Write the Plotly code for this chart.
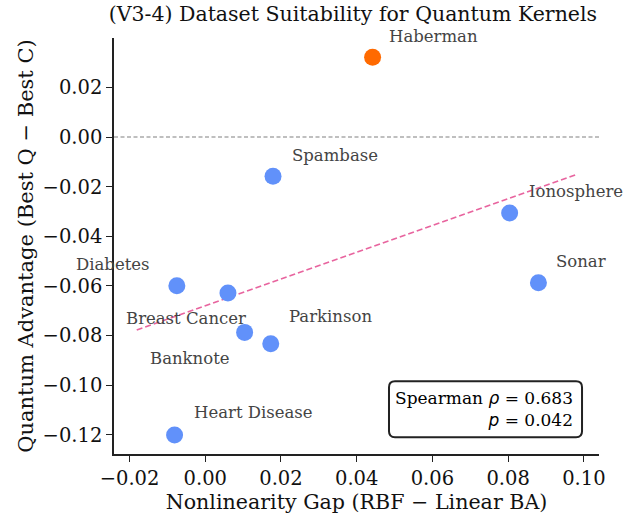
import numpy as np
import plotly.graph_objects as go

datasets = ["Haberman", "Spambase", "Ionosphere", "Sonar", "Diabetes",
            "Breast Cancer", "Banknote", "Parkinson", "Heart Disease"]
nonlin_gap = [0.0442, 0.0179, 0.0804, 0.0880, -0.0075, 0.0060, 0.0104, 0.0173, -0.0081]
q_advantage = [0.0321, -0.0158, -0.0306, -0.0587, -0.0599, -0.0628, -0.0787, -0.0833, -0.1200]
x_ticks = [-0.02, 0.00, 0.02, 0.04, 0.06, 0.08, 0.10]
y_ticks = [-0.12, -0.10, -0.08, -0.06, -0.04, -0.02, 0.00, 0.02]
spearman_rho = 0.683
spearman_p = 0.042

# label placement (pixel offsets from point, anchor)
label_pos = {
    "Haberman": (14, 21, "left"),
    "Spambase": (17, 21, "left"),
    "Ionosphere": (17, 21, "left"),
    "Sonar": (16, 21, "left"),
    "Diabetes": (-25, 21, "right"),
    "Breast Cancer": (20, -26, "right"),
    "Banknote": (-13, -26, "right"),
    "Parkinson": (16, 27, "left"),
    "Heart Disease": (17, 22, "left"),
}

def fmt(v):
    s = f"{abs(v):.2f}"
    return ("\u2212" + s) if v < -1e-12 else s

colors = ["#FF6A00" if q > 0 else "#6191FA" for q in q_advantage]

fig = go.Figure()

# zero line
fig.add_shape(type="line", xref="paper", yref="y", x0=0, x1=1, y0=0, y1=0,
              line=dict(color="#808080", width=1.1, dash="4px,2.5px"))

# trend line (least-squares fit)
slope, icpt = np.polyfit(nonlin_gap, q_advantage, 1)
xs = np.array([min(nonlin_gap) - 0.01, max(nonlin_gap) + 0.01])
fig.add_trace(go.Scatter(x=xs, y=slope * xs + icpt, mode="lines",
                         line=dict(color="#E8659F", width=1.8, dash="6px,3px"),
                         hoverinfo="skip", showlegend=False))

fig.add_trace(go.Scatter(x=nonlin_gap, y=q_advantage, mode="markers",
                         marker=dict(size=17, color=colors, line=dict(width=0)),
                         text=datasets, showlegend=False))

for name, xv, yv in zip(datasets, nonlin_gap, q_advantage):
    dx, dy, anc = label_pos[name]
    fig.add_annotation(x=xv, y=yv, xref="x", yref="y", text=name, showarrow=False,
                       xanchor=anc, yanchor="middle", xshift=dx, yshift=dy,
                       font=dict(family="DejaVu Serif", size=16.5, color="#444444"))

# stats box (rounded)
x0, x1, y0, y1 = 0.567, 0.965, 0.04, 0.175
rx, ry = 6 / 485.0, 6 / 416.5
path = (f"M {x0+rx},{y0} L {x1-rx},{y0} Q {x1},{y0} {x1},{y0+ry} "
        f"L {x1},{y1-ry} Q {x1},{y1} {x1-rx},{y1} L {x0+rx},{y1} "
        f"Q {x0},{y1} {x0},{y1-ry} L {x0},{y0+ry} Q {x0},{y0} {x0+rx},{y0} Z")
fig.add_shape(type="path", xref="paper", yref="paper", path=path,
              line=dict(color="#222222", width=2), fillcolor="white", layer="above")
ital = '<span style="font-family:DejaVu Sans"><i>{}</i></span>'
fig.add_annotation(x=x1 - 0.015, y=(y0 + y1) / 2, xref="paper", yref="paper",
                   xanchor="right", yanchor="middle", showarrow=False, align="right",
                   text=f"Spearman {ital.format('ρ')} = {spearman_rho:.3f}<br>{ital.format('p')} = {spearman_p:.3f}",
                   font=dict(family="DejaVu Serif", size=17, color="black"))

fig.update_layout(
    width=629, height=528,
    margin=dict(l=114, r=30, t=38, b=74),
    plot_bgcolor="white", paper_bgcolor="white",
    title=dict(text="(V3-4) Dataset Suitability for Quantum Kernels",
               x=0.561, xanchor="center", y=0.973, yanchor="middle",
               font=dict(family="DejaVu Serif", size=20.5, color="#111111")),
    font=dict(family="DejaVu Serif", color="#111111"),
)
fig.update_xaxes(range=[-0.0241, 0.1040], tickvals=x_ticks, ticktext=[fmt(v) for v in x_ticks],
                 showgrid=False, zeroline=False, showline=True, linecolor="#222222", linewidth=1.5,
                 ticks="outside", ticklen=6, tickwidth=1.2, tickcolor="#222222",
                 tickfont=dict(family="DejaVu Serif", size=19.5),
                 title=dict(text="Nonlinearity Gap (RBF \u2212 Linear BA)", font=dict(size=20.6), standoff=4))
fig.update_yaxes(range=[-0.1277, 0.0399], tickvals=y_ticks, ticktext=[fmt(v) for v in y_ticks],
                 showgrid=False, zeroline=False, showline=True, linecolor="#222222", linewidth=1.5,
                 ticks="outside", ticklen=6, tickwidth=1.2, tickcolor="#222222",
                 tickfont=dict(family="DejaVu Serif", size=19.5),
                 title=dict(text="Quantum Advantage (Best Q \u2212 Best C)", font=dict(size=21), standoff=3))

fig.write_html("out.html")
